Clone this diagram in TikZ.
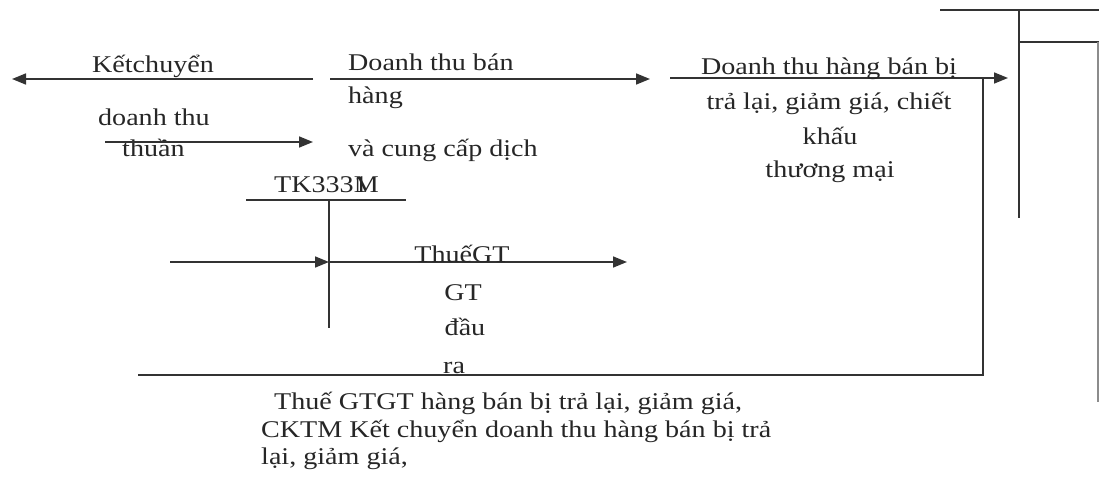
\documentclass[tikz,border=0pt]{standalone}
\usepackage{fontspec}
\setmainfont{Liberation Serif}[FakeStretch=1.17]
\usetikzlibrary{arrows.meta}
\begin{document}
\begin{tikzpicture}[x=1pt,y=-1pt,
  ln/.style={draw=black!80,line width=1.6pt},
  thin/.style={draw=black!45,line width=1.2pt},
  arr/.style={ln,-{Triangle[length=14pt,width=11pt]}},
  lbl/.style={anchor=base west,inner sep=0pt,text=black!85,font=\fontsize{24}{28}\selectfont},
  clbl/.style={lbl,anchor=base}]
\useasboundingbox (0,0) rectangle (1099,481);

% T-account frame at the right
\coordinate (ta) at (940,10);
\coordinate (tb) at (1099,10);
\coordinate (tc) at (1019,10);
\coordinate (td) at (1019,218);
\coordinate (te) at (1019,42);
\coordinate (tf) at (1099,42);
\coordinate (tg) at (1098,42);
\coordinate (th) at (1098,402);
\draw[ln] (ta) -- (tb);
\draw[ln] (tc) -- (td);
\draw[ln] (te) -- (tf);
\draw[thin] (tg) -- (th);

% top row of flows
\coordinate (a1s) at (313,79);
\coordinate (a1e) at (12,79);
\draw[arr] (a1s) -- (a1e);
\node[lbl] (kc) at (92,73) {Kếtchuyển};

\coordinate (a2s) at (330,79);
\coordinate (a2e) at (650,79);
\draw[arr] (a2s) -- (a2e);
\node[lbl] (dt1) at (348,71) {Doanh thu bán};
\node[lbl] (dt2) at (348,104) {hàng};
\node[lbl] (dt3) at (348,157) {và cung cấp dịch};

\coordinate (a3s) at (670,78);
\coordinate (a3e) at (1008,78);
\draw[arr] (a3s) -- (a3e);
\node[clbl] (tl1) at (829,75) {Doanh thu hàng bán bị};
\node[clbl] (tl2) at (829,110) {trả lại, giảm giá, chiết};
\node[clbl] (tl3) at (830,145) {khấu};
\node[clbl] (tl4) at (830,178) {thương mại};

% net revenue
\node[lbl] (dtt1) at (98,126) {doanh thu};
\node[lbl] (dtt2) at (122,157) {thuần};
\coordinate (a4s) at (105,142);
\coordinate (a4e) at (313,142);
\draw[arr] (a4s) -- (a4e);

% VAT account
\node[lbl] (tk) at (274,193) {TK333\rlap{1}M};
\coordinate (k1) at (246,200);
\coordinate (k2) at (406,200);
\coordinate (k3) at (329,200);
\coordinate (k4) at (329,328);
\draw[ln] (k1) -- (k2);
\draw[ln] (k3) -- (k4);

\coordinate (v1) at (170,262);
\coordinate (v2) at (329,262);
\coordinate (v3) at (627,262);
\draw[arr] (v1) -- (v2);
\draw[arr] (v2) -- (v3);
\node[clbl] (vt1) at (462,262) {ThuếGT};
\node[clbl] (vt2) at (463,300) {GT};
\node[clbl] (vt3) at (465,335) {đầu};
\node[lbl] (vt4) at (443,373) {ra};

% return line
\coordinate (r1) at (138,375);
\coordinate (r2) at (983,375);
\coordinate (r3) at (983,79);
\draw[ln] (r1) -- (r2) -- (r3);

% caption under the return line
\node[lbl] (b1) at (274,409) {Thuế GTGT hàng bán bị trả lại, giảm giá,};
\node[lbl] (b2) at (261,437) {CKTM Kết chuyển doanh thu hàng bán bị trả};
\node[lbl] (b3) at (261,464) {lại, giảm giá,};
\end{tikzpicture}
\end{document}
